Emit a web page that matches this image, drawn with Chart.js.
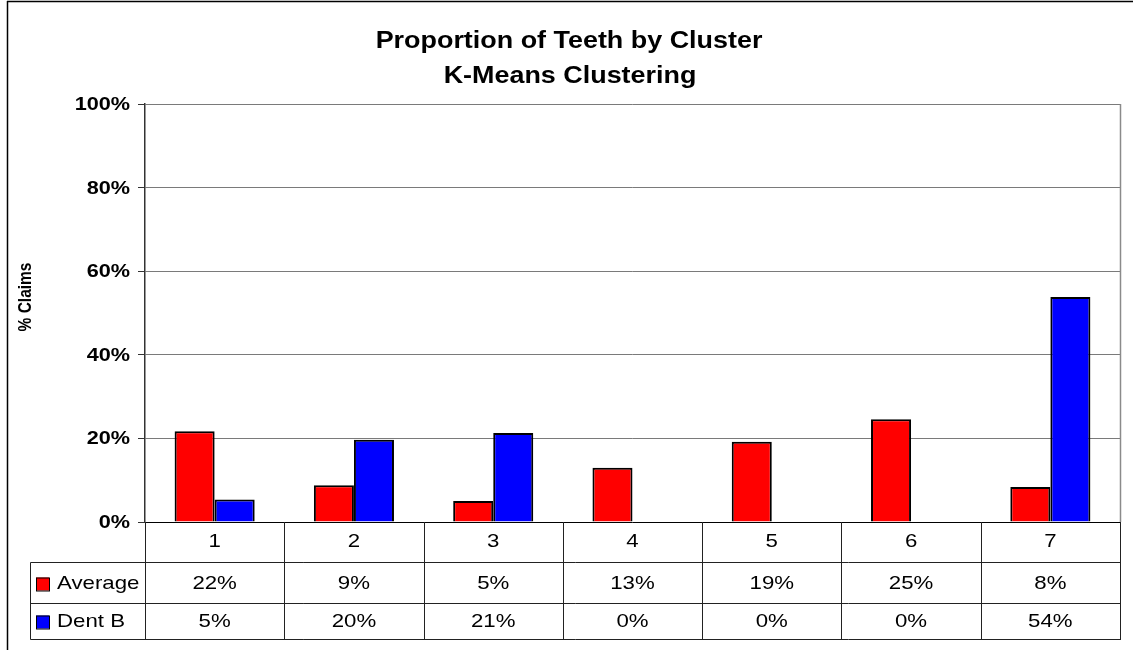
<!DOCTYPE html>
<html>
<head>
<meta charset="utf-8">
<script src="https://cdn.jsdelivr.net/npm/chart.js@4.4.1/dist/chart.umd.min.js"></script>
<style>
html,body{margin:0;padding:0;background:#fff;}
#wrap{width:1133px;height:650px;position:relative;}
</style>
</head>
<body>
<div id="wrap"><canvas id="c" width="1133" height="650"></canvas></div>
<script>
// ---- data ----
const categories = ['1', '2', '3', '4', '5', '6', '7'];
const averageValues = [21.7, 8.8, 5.0, 13.0, 19.2, 24.6, 8.4];
const dentBValues = [5.4, 19.7, 21.3, 0, 0, 0, 53.8];
const seriesNames = ['Average', 'Dent B'];
const titleLines = ['Proportion of Teeth by Cluster', 'K-Means Clustering'];
const yAxisTitle = '% Claims';
const yTickValues = [0, 20, 40, 60, 80, 100];

const FONT = '"Liberation Sans", Arial, sans-serif';
const SX = 1.17; // horizontal text stretch

function sText(ctx, text, x, y, align, sx) {
  ctx.save();
  ctx.translate(x, y);
  ctx.scale(sx, 1);
  ctx.textAlign = align;
  ctx.fillText(text, 0, 0);
  ctx.restore();
}
function hline(ctx, x1, x2, y) { ctx.beginPath(); ctx.moveTo(x1, y); ctx.lineTo(x2, y); ctx.stroke(); }
function vline(ctx, x, y1, y2) { ctx.beginPath(); ctx.moveTo(x, y1); ctx.lineTo(x, y2); ctx.stroke(); }

const decorPlugin = {
  id: 'decor',
  beforeDraw(chart) {
    const ctx = chart.ctx;
    ctx.save();
    ctx.fillStyle = '#fff';
    ctx.fillRect(0, 0, chart.width, chart.height);
    ctx.restore();
  },
  afterDraw(chart) {
    const ctx = chart.ctx;
    const ca = chart.chartArea;
    const xs = chart.scales.x;
    const ys = chart.scales.y;
    ctx.save();
    // outer frame
    ctx.strokeStyle = '#000';
    ctx.lineWidth = 1.5;
    hline(ctx, 7, chart.width, 1.5);
    vline(ctx, 7.5, 1, chart.height);

    // plot area right border
    ctx.strokeStyle = '#8a8a8a';
    ctx.lineWidth = 1.5;
    vline(ctx, ca.right + 0.5, ca.top, ca.bottom);

    // title
    ctx.fillStyle = '#000';
    ctx.textBaseline = 'alphabetic';
    ctx.font = 'bold 23px ' + FONT;
    sText(ctx, titleLines[0], 569, 48, 'center', SX);
    sText(ctx, titleLines[1], 570, 83, 'center', SX);

    // y axis title
    ctx.save();
    ctx.translate(26, 297);
    ctx.rotate(-Math.PI / 2);
    ctx.scale(1, SX);
    ctx.font = 'bold 15.5px ' + FONT;
    ctx.textAlign = 'center';
    ctx.textBaseline = 'middle';
    ctx.fillText(yAxisTitle, 0, 0);
    ctx.restore();

    // y tick labels
    ctx.font = 'bold 18.5px ' + FONT;
    ctx.textBaseline = 'middle';
    ys.ticks.forEach(t => {
      sText(ctx, t.value + '%', 130, ys.getPixelForValue(t.value) + 1, 'right', SX);
    });

    // data table
    const rowTop = ca.bottom;
    const r1 = 562.5, r2 = 603.5, r3 = 639.5;
    const tableLeft = 30.5;
    const n = categories.length;
    const bounds = [];
    for (let i = 0; i <= n; i++) {
      if (i === 0) bounds.push(ca.left);
      else if (i === n) bounds.push(ca.right);
      else bounds.push((xs.getPixelForValue(i - 1) + xs.getPixelForValue(i)) / 2);
    }
    ctx.strokeStyle = '#222';
    ctx.lineWidth = 1;
    hline(ctx, tableLeft, ca.right + 1, r1);
    hline(ctx, tableLeft, ca.right + 1, r2);
    hline(ctx, tableLeft, ca.right + 1, r3);
    vline(ctx, tableLeft, r1, r3);
    bounds.forEach((b, i) => {
      const x = Math.round(b) + 0.5;
      vline(ctx, x, rowTop, r3);
    });

    ctx.fillStyle = '#000';
    ctx.font = '19px ' + FONT;
    ctx.textBaseline = 'middle';
    const rowsY = [584, 622];
    const allVals = [averageValues, dentBValues];
    categories.forEach((c, i) => {
      const cx = xs.getPixelForValue(i);
      sText(ctx, c, cx, 542, 'center', SX);
      allVals.forEach((vals, k) => {
        sText(ctx, Math.round(vals[i]) + '%', cx, rowsY[k], 'center', SX);
      });
    });
    // legend keys in table
    chart.data.datasets.forEach((ds, k) => {
      const ky = rowsY[k] - 6.5;
      ctx.fillStyle = ds.backgroundColor;
      ctx.fillRect(36, ky, 13, 13);
      ctx.strokeStyle = '#000';
      ctx.lineWidth = 1;
      ctx.strokeRect(36.5, ky + 0.5, 13, 13);
      ctx.fillStyle = '#000';
      sText(ctx, ds.label, 57, rowsY[k], 'left', SX);
    });
    ctx.restore();
  }
};

new Chart(document.getElementById('c'), {
  type: 'bar',
  data: {
    labels: categories,
    datasets: [
      { label: seriesNames[0], data: averageValues, backgroundColor: '#FF0000', borderColor: '#000', borderWidth: 2 },
      { label: seriesNames[1], data: dentBValues, backgroundColor: '#0000FF', borderColor: '#000', borderWidth: 2 }
    ]
  },
  options: {
    responsive: false,
    animation: false,
    devicePixelRatio: 1,
    layout: { padding: { left: 0, top: 104, right: 13, bottom: 128 } },
    datasets: { bar: { categoryPercentage: 0.575, barPercentage: 1.0 } },
    plugins: { legend: { display: false }, title: { display: false }, tooltip: { enabled: false } },
    scales: {
      x: {
        display: false,
        afterFit(scale) { scale.height = 0; }
      },
      y: {
        min: 0, max: 100,
        afterFit(scale) { scale.width = 145; },
        afterBuildTicks(scale) { scale.ticks = yTickValues.map(v => ({ value: v })); },
        ticks: { display: false },
        grid: {
          drawTicks: true,
          tickLength: 7,
          color: ctx => (ctx.tick && ctx.tick.value === 0) ? '#000' : '#7a7a7a',
          tickColor: '#333',
          lineWidth: 1
        },
        border: { display: true, color: '#333', width: 1.5 }
      }
    }
  },
  plugins: [decorPlugin]
});
</script>
</body>
</html>
